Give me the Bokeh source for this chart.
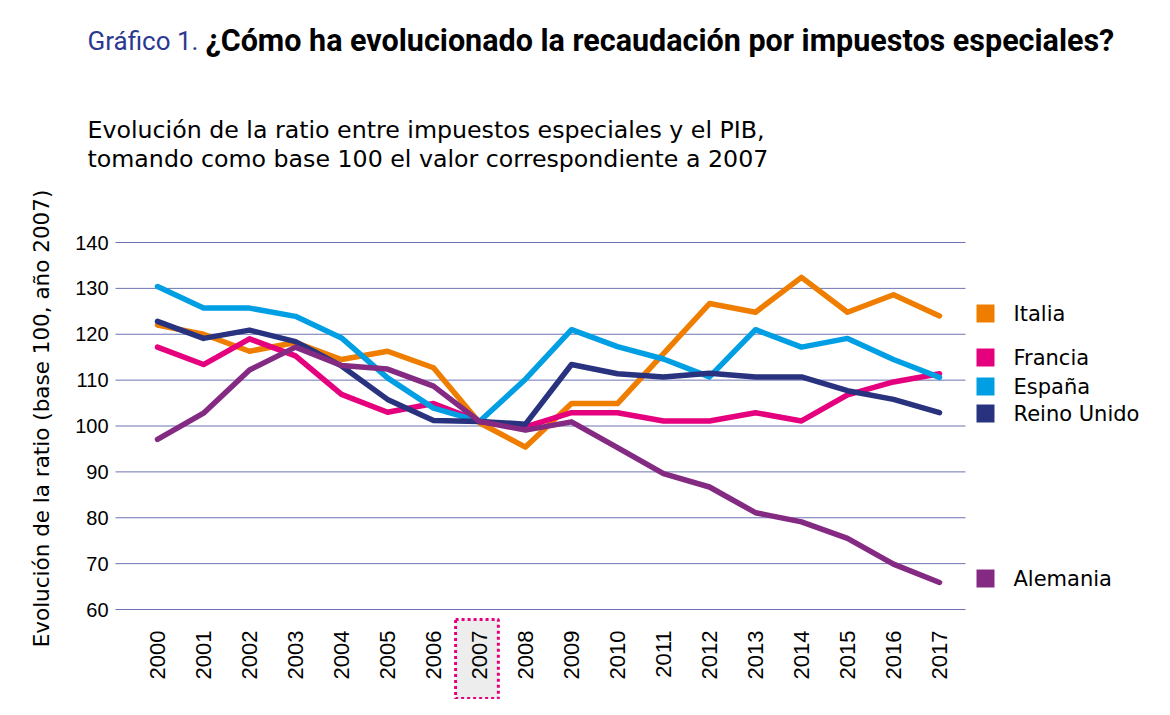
import math
from bokeh.plotting import figure
from bokeh.models import Range1d, Grid, ColumnDataSource
from bokeh.core.properties import value
from bokeh.embed import file_html
from bokeh.resources import INLINE

years = list(range(2000, 2018))
year_labels = [str(y) for y in years]
italia = [122.0, 120.0, 116.3, 118.2, 114.5, 116.3, 112.7, 100.7, 95.4, 104.9, 104.9, 115.8, 126.7, 124.8, 132.4, 124.8, 128.6, 124.0]
francia = [117.2, 113.4, 119.0, 115.3, 106.9, 103.0, 104.9, 101.0, 99.8, 102.9, 102.9, 101.1, 101.1, 102.9, 101.1, 106.8, 109.6, 111.4]
espana = [130.4, 125.7, 125.7, 123.9, 119.2, 110.5, 103.9, 101.0, 110.2, 121.0, 117.3, 114.6, 110.7, 121.0, 117.2, 119.1, 114.5, 110.6]
reino_unido = [122.8, 119.1, 120.9, 118.4, 113.1, 105.8, 101.2, 101.0, 100.4, 113.4, 111.4, 110.7, 111.5, 110.7, 110.7, 107.7, 105.8, 102.9]
alemania = [97.1, 102.8, 112.2, 117.2, 113.2, 112.4, 108.7, 101.0, 99.1, 100.9, 95.3, 89.6, 86.7, 81.1, 79.1, 75.5, 69.9, 65.9]
y_ticks = [60, 70, 80, 90, 100, 110, 120, 130, 140]
y_tick_labels = [str(t) for t in y_ticks]
series_names = ["Italia", "Francia", "España", "Reino Unido", "Alemania"]
series_colors = ["#ef7d00", "#e5007e", "#009fe3", "#29327f", "#842a83"]
highlight_year = 2007
title_prefix = "Gráfico 1."
title_main = "¿Cómo ha evolucionado la recaudación por impuestos especiales?"
subtitle = ["Evolución de la ratio entre impuestos especiales y el PIB,",
            "tomando como base 100 el valor correspondiente a 2007"]
y_axis_label = "Evolución de la ratio (base 100, año 2007)"

FONT = "Liberation Sans"
WIDE = "DejaVu Sans"
W, H = 1154, 699
# plot area geometry (canvas px): first/last year position, y-range top/bottom position
X0_PX, X1_PX = 157, 939
Y_TOP_PX, Y_BOT_PX = 242, 609
GRID_L, GRID_R = 115, 965
px_per_year = (X1_PX - X0_PX) / (years[-1] - years[0])
px_per_unit = (Y_BOT_PX - Y_TOP_PX) / (y_ticks[-1] - y_ticks[0])

def X(px):
    return years[0] + (px - X0_PX) / px_per_year

def Y(py):
    return y_ticks[-1] - (py - Y_TOP_PX) / px_per_unit

p = figure(width=W, height=H, output_backend="svg", toolbar_location=None,
           x_range=Range1d(X(0), X(W)), y_range=Range1d(Y(H), Y(0)),
           x_axis_location=None, y_axis_location=None,
           min_border=0)
p.outline_line_color = None
p.background_fill_color = "white"
p.border_fill_color = "white"
for g in list(p.center):
    if isinstance(g, Grid):
        g.visible = False

# horizontal gridlines at the y ticks
n = len(y_ticks)
p.segment(x0=[X(GRID_L)] * n, x1=[X(GRID_R)] * n, y0=y_ticks, y1=y_ticks,
          line_color="#6d74b3", line_width=1)

# y tick labels
p.text(x=[X(108)] * n, y=y_ticks, text=y_tick_labels,
       text_font=value(FONT), text_font_size="20px", text_color="black",
       text_align="right", text_baseline="middle")

# 2007 highlight box behind its tick label
p.quad(left=[highlight_year - 0.52], right=[highlight_year + 0.41],
       top=[Y(619)], bottom=[Y(698)], fill_color="#ededed", line_color="#e5007e",
       line_width=3, line_dash="3 3")

# x tick labels (vertical, reading upwards)
p.text(x=years, y=[Y(630)] * len(years), text=year_labels, angle=math.pi / 2,
       text_font=value(FONT), text_font_size="22px", text_color="black",
       text_align="right", text_baseline="middle")

# y axis label
p.text(x=[X(41)], y=[Y(418)], text=[y_axis_label], angle=math.pi / 2,
       text_font=value(WIDE), text_font_size="21.5px", text_color="black",
       text_align="center", text_baseline="middle")

# data lines
data = [italia, francia, espana, reino_unido, alemania]
for name, vals, col in zip(series_names, data, series_colors):
    src = ColumnDataSource(dict(x=years, y=vals))
    p.line("x", "y", source=src, line_color=col, line_width=5.5, line_join="round", line_cap="round")

# legend
legend_centers = [313, 357, 386, 413, 578]
p.quad(left=[X(976)] * 5, right=[X(994)] * 5,
       top=[Y(c - 9) for c in legend_centers], bottom=[Y(c + 9) for c in legend_centers],
       fill_color=series_colors, line_color=None)
p.text(x=[X(1013)] * 5, y=[Y(c) for c in legend_centers], text=series_names,
       text_font=value(WIDE), text_font_size="21px", text_color="black",
       text_align="left", text_baseline="middle")

# title
p.text(x=[X(87)], y=[Y(40)], text=[title_prefix], text_font=value("Roboto"),
       text_font_size="26px", text_color="#2b3990", text_baseline="alphabetic")
p.text(x=[X(205)], y=[Y(40)], text=[title_main], text_font=value("Roboto"),
       text_font_style="bold", text_font_size="30.5px", text_color="black",
       text_baseline="alphabetic")
# subtitle
p.text(x=[X(87), X(87)], y=[Y(129), Y(158)], text=subtitle, text_font=value(WIDE),
       text_font_size="23.7px", text_color="black", text_baseline="alphabetic")

open("out.html", "w").write(file_html(p, INLINE))
